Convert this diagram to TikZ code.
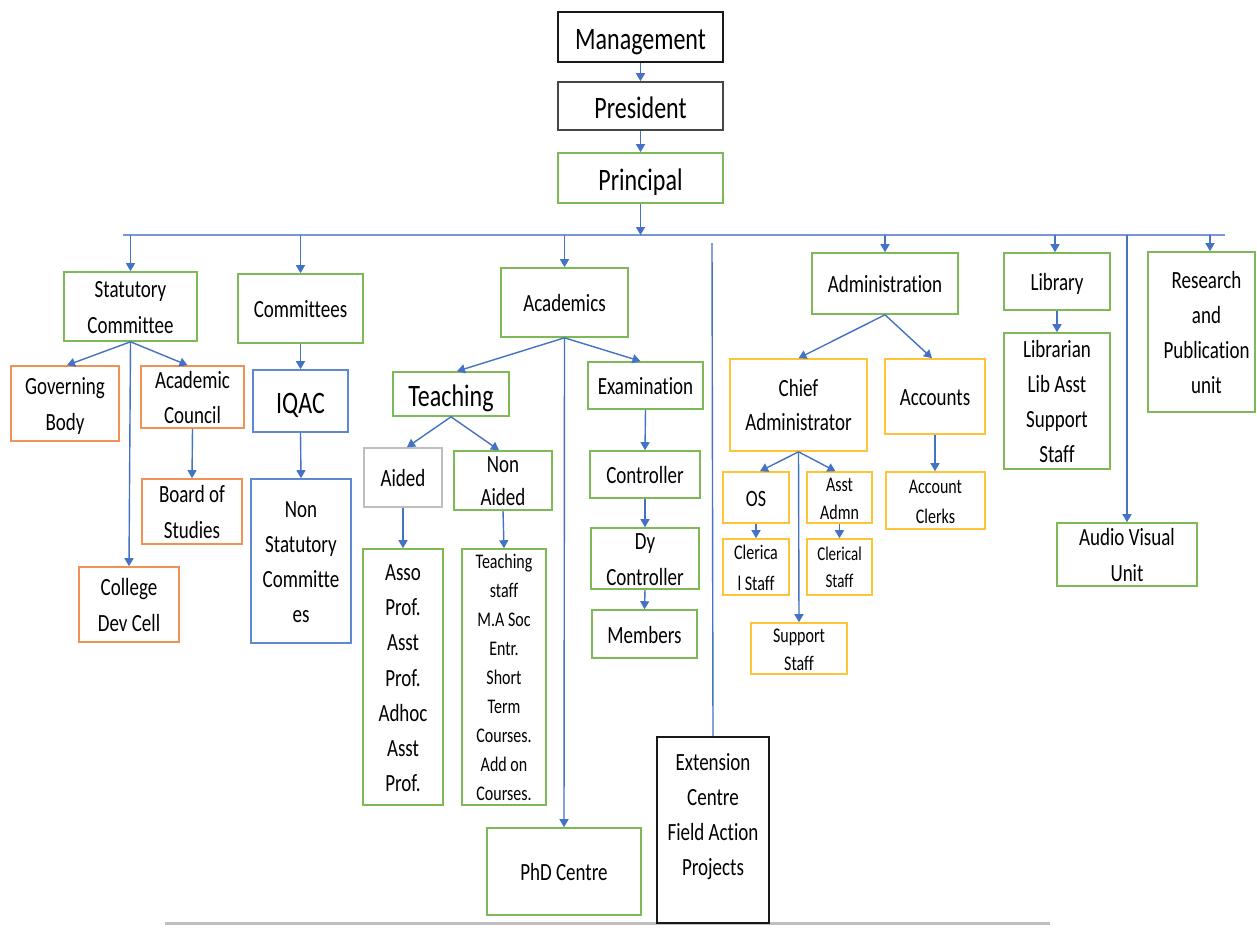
\documentclass[tikz,border=0pt]{standalone}
\usepackage{fontspec}
\usepackage{graphicx}
\setmainfont{Carlito}[Ligatures=CommonOff]
\usetikzlibrary{arrows.meta}
\definecolor{gbr}{RGB}{125,185,85}
\definecolor{obr}{RGB}{240,145,85}
\definecolor{bbr}{RGB}{95,135,210}
\definecolor{ybr}{RGB}{255,195,55}
\definecolor{kbr}{RGB}{25,25,25}
\definecolor{dbr}{RGB}{70,70,70}
\definecolor{graybr}{RGB}{190,190,190}
\definecolor{arrblue}{RGB}{68,114,196}
\definecolor{busblue}{RGB}{120,150,215}
\tikzset{
  bx/.style={draw, line width=1.6pt, inner sep=0pt},
  gbox/.style={bx, draw=gbr},
  obox/.style={bx, draw=obr},
  bbox/.style={bx, draw=bbr},
  ybox/.style={bx, draw=ybr},
  kbox/.style={bx, draw=kbr},
  dbox/.style={bx, draw=dbr},
  graybox/.style={bx, draw=graybr},
  lbl/.style={inner sep=0pt, text=black, yshift=-2pt, font=\fontsize{19}{27}\selectfont},
  big/.style={yshift=-1pt, font=\fontsize{24}{36}\selectfont},
  smallA/.style={font=\fontsize{16}{22.3}\selectfont},
  arr/.style={draw=arrblue, line width=1.4pt, -{Triangle[width=9pt,length=8pt]}},
  plain/.style={draw=arrblue, line width=1.4pt},
  busline/.style={draw=busblue, line width=1.3pt},
}
\newcommand\orgbox[8]{%
  \pgfmathsetmacro\bxW{#5-#3}\pgfmathsetmacro\bxH{#6-#4}%
  \pgfmathsetmacro\bxX{(#3+#5)/2}\pgfmathsetmacro\bxY{(#4+#6)/2}%
  \node[#2, minimum width=\bxW pt, minimum height=\bxH pt,
        label={[lbl,#7]center:{\scalebox{1}[1.3]{\begin{tabular}{@{}c@{}}#8\end{tabular}}}}] (#1) at (\bxX,\bxY) {};}
\begin{document}
\begin{tikzpicture}[x=1pt,y=-1pt]
\fill[white] (0,0) rectangle (1257,927);
\useasboundingbox (0,0) rectangle (1257,927);
% bottom page shadow
\draw[line width=3pt, black!25] (165,923) -- (1050,923);

\orgbox{mgmt}{kbox}{558}{12}{723}{62}{big}{Management}
\orgbox{pres}{dbox}{558}{82}{723}{130}{big}{President}
\orgbox{prin}{gbox}{558}{153}{723}{203}{big}{Principal}

\orgbox{stat}{gbox}{64}{272}{197}{341}{}{Statutory\\Committee}
\orgbox{comm}{gbox}{238}{274}{363}{343}{}{Committees}
\orgbox{gov}{obox}{11}{366}{119}{441}{}{Governing\\Body}
\orgbox{acc}{obox}{141}{366}{244}{428}{}{Academic\\Council}
\orgbox{bos}{obox}{142}{479}{242}{544}{}{Board of\\Studies}
\orgbox{cdc}{obox}{79}{567}{179}{642}{}{College\\Dev Cell}
\orgbox{iqac}{bbox}{253}{370}{348}{432}{big}{IQAC}
\orgbox{nsc}{bbox}{251}{479}{351}{643}{}{Non\\Statutory\\Committe\\es}

\orgbox{acad}{gbox}{501}{268}{628}{337}{}{Academics}
\orgbox{teach}{gbox}{393}{372}{509}{416}{big}{Teaching}
\orgbox{exam}{gbox}{588}{362}{703}{409}{}{Examination}
\orgbox{aided}{graybox}{364}{448}{442}{507}{}{Aided}
\orgbox{naided}{gbox}{454}{451}{552}{510}{font=\fontsize{19}{25.4}\selectfont}{Non\\Aided}
\orgbox{asso}{gbox}{363}{549}{443}{805}{}{Asso\\Prof.\\Asst\\Prof.\\Adhoc\\Asst\\Prof.}
\orgbox{tstaff}{gbox}{462}{549}{546}{805}{smallA}{Teaching\\staff\\M.A Soc\\Entr.\\Short\\Term\\Courses.\\Add on\\Courses.}
\orgbox{ctrl}{gbox}{590}{451}{700}{498}{}{Controller}
\orgbox{dyc}{gbox}{591}{528}{699}{589}{}{Dy\\Controller}
\orgbox{memb}{gbox}{592}{610}{697}{658}{}{Members}
\orgbox{phd}{gbox}{487}{828}{641}{915}{}{PhD Centre}
\orgbox{ext}{kbox}{657}{737}{769}{923}{yshift=16pt}{Extension\\Centre\\Field Action\\Projects}

\orgbox{admin}{gbox}{812}{253}{958}{314}{}{Administration}
\orgbox{chief}{ybox}{730}{359}{867}{451}{font=\fontsize{19}{26}\selectfont}{Chief\\Administrator}
\orgbox{accts}{ybox}{885}{359}{985}{434}{}{Accounts}
\orgbox{os}{ybox}{723}{472}{789}{523}{font=\fontsize{18}{28}\selectfont}{OS}
\orgbox{asst}{ybox}{807}{472}{872}{523}{font=\fontsize{16}{21.5}\selectfont}{Asst\\Admn}
\orgbox{clA}{ybox}{723}{539}{789}{595}{font=\fontsize{16}{23.8}\selectfont}{Clerica\\l Staff}
\orgbox{clB}{ybox}{807}{539}{872}{595}{font=\fontsize{15}{20.8}\selectfont}{Clerical\\Staff}
\orgbox{supp}{ybox}{751}{623}{847}{674}{font=\fontsize{16}{21.5}\selectfont}{Support\\Staff}
\orgbox{aclk}{ybox}{886}{472}{985}{529}{font=\fontsize{16}{23}\selectfont}{Account\\Clerks}

\orgbox{lib}{gbox}{1004}{253}{1110}{310}{}{Library}
\orgbox{libr}{gbox}{1004}{333}{1110}{469}{}{Librarian\\Lib Asst\\Support\\Staff}
\orgbox{res}{gbox}{1148}{252}{1255}{412}{xshift=5pt}{Research\\and\\Publication\\unit}
\orgbox{av}{gbox}{1057}{523}{1197}{586}{}{Audio Visual\\Unit}

% bus line
\coordinate (busL) at (123,235);
\coordinate (busR) at (1225,235);
\coordinate (extTop) at (712,243);
\coordinate (resDrop) at (1210,235);
\draw[busline] (busL) -- (busR);

% top chain
\draw[arr] (mgmt.south) -- (pres.north);
\draw[arr] (pres.south) -- (prin.north);
\draw[arr] (prin.south) -- (prin.south |- busL);

% drops from bus
\draw[arr] (stat.north |- busL) -- (stat.north);
\draw[arr] (comm.north |- busL) -- (comm.north);
\draw[arr] (acad.north |- busL) -- (acad.north);
\draw[arr] (admin.north |- busL) -- (admin.north);
\draw[arr] ([xshift=-2pt]lib.north |- busL) -- ([xshift=-2pt]lib.north);
\draw[arr] (resDrop) -- (resDrop |- res.north);
\draw[arr] (av.north |- busL) -- (av.north);
\draw[plain] (extTop) -- (ext.north);

% statutory
\draw[arr] (stat.south) -- ([xshift=2pt]gov.north);
\draw[arr] (stat.south) -- ([xshift=-5pt]acc.north);
\draw[arr] (stat.south) -- (cdc.north);
\draw[arr] (acc.south) -- (bos.north);
% committees
\draw[arr] (comm.south) -- (iqac.north);
\draw[arr] (iqac.south) -- (nsc.north);
% academics
\draw[arr] (acad.south) -- ([xshift=6pt]teach.north);
\draw[arr] (acad.south) -- ([xshift=-5pt]exam.north);
\draw[arr] (acad.south) -- (phd.north);
\draw[arr] (teach.south) -- ([xshift=4pt]aided.north);
\draw[arr] (teach.south) -- ([xshift=-4pt]naided.north);
\draw[arr] (aided.south) -- (asso.north);
\draw[arr] (naided.south) -- (tstaff.north);
\draw[arr] (exam.south) -- (ctrl.north);
\draw[arr] (ctrl.south) -- (dyc.north);
\draw[arr] (dyc.south) -- (memb.north);
% administration
\draw[arr] (admin.south) -- (chief.north);
\draw[arr] (admin.south) -- ([xshift=-3pt]accts.north);
\draw[arr] (chief.south) -- ([xshift=4pt]os.north);
\draw[arr] (chief.south) -- ([xshift=-4pt]asst.north);
\draw[arr] (chief.south) -- (supp.north);
\draw[arr] (os.south) -- (clA.north);
\draw[arr] (asst.south) -- (clB.north);
\draw[arr] (accts.south) -- (accts.south |- aclk.north);
% library
\draw[arr] (lib.south) -- (libr.north);
\end{tikzpicture}
\end{document}
